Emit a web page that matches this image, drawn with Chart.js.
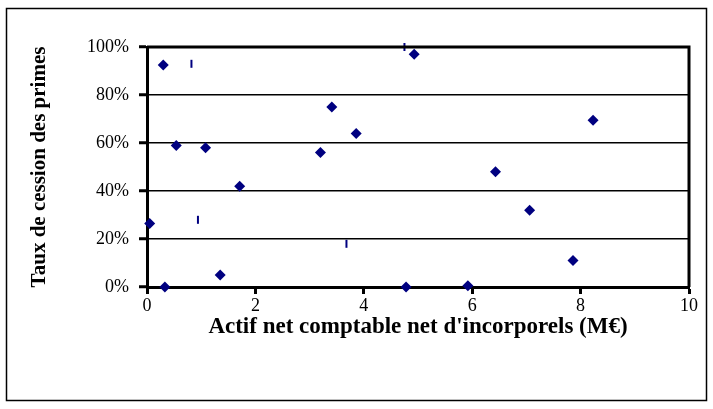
<!DOCTYPE html>
<html lang="fr">
<head>
<meta charset="UTF-8">
<title>Taux de cession des primes</title>
<script src="https://cdn.jsdelivr.net/npm/chart.js"></script>
<style>
  body { margin: 0; background: #fff; }
  canvas { display: block; }
</style>
</head>
<body>
<canvas id="myChart" width="713" height="409"></canvas>
<script>
// points en losange
const actifX = [0.05, 0.30, 0.33, 0.54, 1.08, 1.35, 1.71, 3.20, 3.41, 3.86, 4.78, 4.93, 5.92, 6.43, 7.06, 7.86, 8.23];
const tauxY  = [0.265, 0.925, 0.0, 0.59, 0.58, 0.05, 0.42, 0.56, 0.75, 0.64, 0.0, 0.97, 0.005, 0.48, 0.32, 0.11, 0.695];
// petits traits verticaux
const traitX = [0.82, 0.94, 3.68, 4.75];
const traitY = [0.93, 0.28, 0.18, 1.0];
// graduations
const xTicks = [0, 2, 4, 6, 8, 10];
const yTicks = [0, 0.2, 0.4, 0.6, 0.8, 1.0];

const navy = '#000080';
const serif = "'Liberation Serif', 'Times New Roman', serif";

// cadre du graphique + cadre exterieur
const cadre = {
  id: 'cadre',
  afterDraw(chart) {
    const c = chart.ctx, a = chart.chartArea;
    c.save();
    c.strokeStyle = '#000';
    c.lineWidth = 3;
    c.beginPath();
    c.moveTo(a.left, a.top);
    c.lineTo(a.right, a.top);
    c.lineTo(a.right, a.bottom);
    c.stroke();
    c.lineWidth = 1.5;
    c.strokeRect(6.5, 8.5, 700, 392);
    c.restore();
  }
};

const ctx = document.getElementById('myChart');
const chart = new Chart(ctx, {
  type: 'scatter',
  data: {
    datasets: [
      {
        label: 'losanges',
        data: actifX.map((x, i) => ({x: x, y: tauxY[i]})),
        pointStyle: 'rectRot',
        pointRadius: 5.5,
        backgroundColor: navy,
        borderColor: navy,
        borderWidth: 0
      },
      {
        label: 'traits',
        data: traitX.map((x, i) => ({x: x, y: traitY[i]})),
        pointStyle: 'line',
        rotation: 90,
        pointRadius: 4,
        borderColor: navy,
        borderWidth: 2
      }
    ]
  },
  options: {
    responsive: false,
    animation: false,
    devicePixelRatio: 1,
    clip: false,
    layout: { padding: { left: 0, top: 47, right: 24, bottom: 0 } },
    plugins: { legend: { display: false }, tooltip: { enabled: false } },
    scales: {
      x: {
        type: 'linear',
        min: 0, max: 10,
        afterBuildTicks: s => { s.ticks = xTicks.map(v => ({value: v})); },
        afterFit: s => { s.height = 122; },
        ticks: { color: '#000', padding: 1, font: { family: serif, size: 18 } },
        grid: { drawOnChartArea: false, drawTicks: true, tickLength: 7, tickWidth: 3, tickColor: '#000' },
        border: { display: true, width: 3, color: '#000' },
        title: {
          display: true,
          text: "Actif net comptable net d'incorporels (M€)",
          color: '#000',
          font: { family: serif, size: 23, weight: 'bold' },
          padding: { top: 0, bottom: 68 }
        }
      },
      y: {
        min: 0, max: 1,
        afterBuildTicks: s => { s.ticks = yTicks.map(v => ({value: v})); },
        afterFit: s => { s.width = 147; },
        ticks: {
          color: '#000', padding: 10, font: { family: serif, size: 18 },
          callback: v => Math.round(v * 100) + '%'
        },
        grid: { color: '#000', lineWidth: 1.5, drawTicks: true, tickLength: 8, tickWidth: 3, tickColor: '#000' },
        border: { display: true, width: 3, color: '#000' },
        title: {
          display: true,
          text: 'Taux de cession des primes',
          color: '#000',
          font: { family: serif, size: 21, weight: 'bold' },
          padding: { top: 27, bottom: 0 }
        }
      }
    }
  },
  plugins: [cadre]
});
</script>
</body>
</html>
